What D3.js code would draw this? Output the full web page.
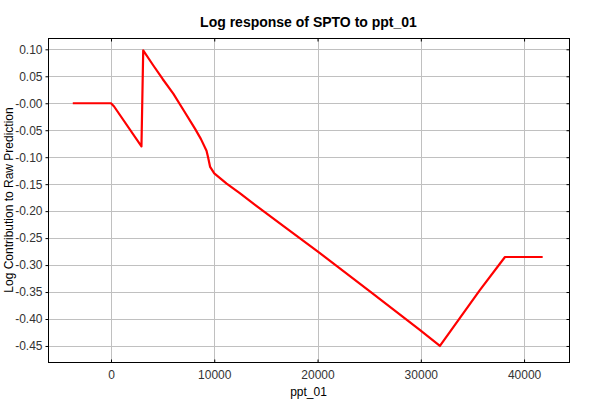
<!DOCTYPE html>
<html>
<head>
<meta charset="utf-8">
<script src="https://cdn.jsdelivr.net/npm/d3@7"></script>
<style>
	body { margin: 0; background: white; }
	text { font-family: "Liberation Sans", Arial, sans-serif; }
</style>
</head>
<body>
<svg></svg>
<script>
var ppt = [-3700, 0, 300, 2950, 3120, 4100, 5000, 6030, 7000, 8130, 8700, 9250, 9400, 9600, 10000, 11200, 12500, 14400, 17000, 20100, 25100, 29900, 31850, 35700, 38150, 41800];
var contrib = [0, 0, -0.006, -0.080, 0.098, 0.070, 0.045, 0.018, -0.012, -0.047, -0.066, -0.088, -0.100, -0.118, -0.130, -0.149, -0.167, -0.195, -0.232, -0.276, -0.349, -0.420, -0.450, -0.347, -0.285, -0.285];
var xTicks = [0, 10000, 20000, 30000, 40000];
var yTicks = [0.10, 0.05, 0, -0.05, -0.10, -0.15, -0.20, -0.25, -0.30, -0.35, -0.40, -0.45];

var width = 600, height = 400;
var plotLeft = 48, plotRight = 569, plotTop = 38, plotBottom = 362;

var svg = d3.select("svg").attr("width", width).attr("height", height);

var x = d3.scaleLinear().domain([-6100, 44350]).range([plotLeft, plotRight]);
var y = d3.scaleLinear().domain([-0.4797, 0.121]).range([plotBottom, plotTop]);

// grid
svg.append("g").selectAll("line").data(xTicks).enter().append("line")
	.attr("x1", function(d){return Math.round(x(d)) + 0.5})
	.attr("x2", function(d){return Math.round(x(d)) + 0.5})
	.attr("y1", plotTop).attr("y2", plotBottom)
	.style("stroke", "#c0c0c0");
svg.append("g").selectAll("line").data(yTicks).enter().append("line")
	.attr("y1", function(d){return Math.round(y(d)) + 0.5})
	.attr("y2", function(d){return Math.round(y(d)) + 0.5})
	.attr("x1", plotLeft).attr("x2", plotRight)
	.style("stroke", "#c0c0c0");

// axes
var fmt = function(d){ return (d <= 0 ? "-" : "") + d3.format(".2f")(Math.abs(d)); };
svg.append("g").attr("transform", "translate(" + (plotLeft + 0.5) + ",0)")
	.call(d3.axisLeft(y).tickValues(yTicks).tickFormat(fmt).tickSizeInner(3).tickSizeOuter(0).tickPadding(3));
svg.append("g").attr("transform", "translate(0," + (plotBottom + 0.5) + ")")
	.call(d3.axisBottom(x).tickValues(xTicks).tickFormat(d3.format("d")).tickSizeInner(-3).tickSizeOuter(0).tickPadding(8));
svg.append("g").attr("transform", "translate(" + (plotRight + 0.5) + ",0)")
	.call(d3.axisRight(y).tickValues(yTicks).tickFormat("").tickSizeInner(-3).tickSizeOuter(0));
svg.append("g").attr("transform", "translate(0," + (plotTop + 0.5) + ")")
	.call(d3.axisTop(x).tickValues(xTicks).tickFormat("").tickSizeInner(-3).tickSizeOuter(0));
svg.selectAll(".domain").remove();
svg.selectAll(".tick line").style("stroke", "black");
svg.selectAll(".tick text").style("font-size", "12px").style("fill", "#333").attr("font-family", null);

svg.append("rect")
	.attr("x", plotLeft + 0.5).attr("y", plotTop + 0.5)
	.attr("width", plotRight - plotLeft).attr("height", plotBottom - plotTop)
	.style("fill", "none").style("stroke", "black");

// line
var line = d3.line().x(function(d, i){return x(ppt[i])}).y(function(d){return y(d)});
svg.append("path").datum(contrib)
	.attr("d", line)
	.style("fill", "none")
	.style("stroke", "#ff0000")
	.style("stroke-width", 2.2)
	.style("stroke-linejoin", "round");

// titles
svg.append("text").text("Log response of SPTO to ppt_01")
	.attr("x", (plotLeft + plotRight) / 2).attr("y", 27)
	.attr("text-anchor", "middle")
	.style("font-size", "14px").style("font-weight", "bold");
svg.append("text").text("ppt_01")
	.attr("x", (plotLeft + plotRight) / 2).attr("y", 396)
	.attr("text-anchor", "middle")
	.style("font-size", "12px");
svg.append("text").text("Log Contribution to Raw Prediction")
	.attr("transform", "translate(13," + ((plotTop + plotBottom) / 2) + ") rotate(-90)")
	.attr("text-anchor", "middle")
	.style("font-size", "12px");
</script>
</body>
</html>
